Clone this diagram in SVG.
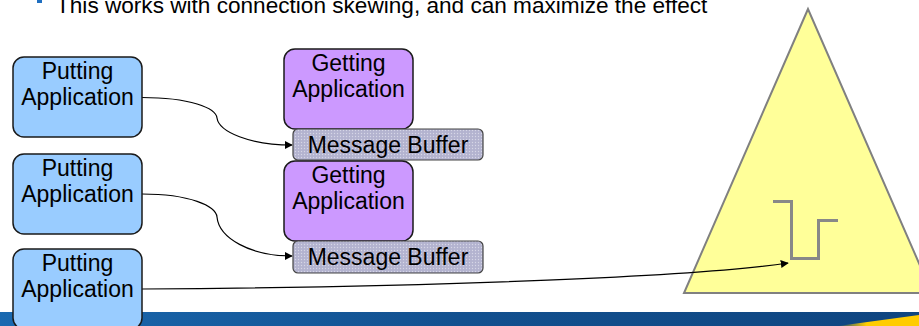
<svg xmlns="http://www.w3.org/2000/svg" width="919" height="326" viewBox="0 0 919 326">
  <style>
    .app { stroke: #1a1a1a; stroke-width: 1.5; }
    .put { fill: #99ccff; }
    .get { fill: #cc99ff; }
    .buf { fill: url(#dots); stroke: #444; stroke-width: 1.2; }
    .lbl { font-family: "Liberation Sans", Arial, sans-serif; font-size: 23px; fill: #000; text-anchor: middle; }
    .conn { fill: none; stroke: #000; stroke-width: 1.2; marker-end: url(#arrow); }
  </style>
  <defs>
    <pattern id="dots" width="3" height="3" patternUnits="userSpaceOnUse">
      <rect width="3" height="3" fill="#b3b3cf"/>
      <circle cx="1.5" cy="1.5" r="0.7" fill="#d6d6e6"/>
    </pattern>
    <marker id="arrow" viewBox="0 0 10 10" refX="9" refY="5" markerWidth="8" markerHeight="8" markerUnits="userSpaceOnUse" orient="auto">
      <path d="M0,0 L10,5 L0,10 Z" fill="#000"/>
    </marker>
    <linearGradient id="band" x1="0" y1="0" x2="1" y2="0">
      <stop offset="0" stop-color="#1a69b0"/>
      <stop offset="0.5" stop-color="#12508f"/>
      <stop offset="1" stop-color="#0f4580"/>
    </linearGradient>
    <linearGradient id="swoosh" x1="0" y1="0" x2="1" y2="0">
      <stop offset="0" stop-color="#ffcc00" stop-opacity="0"/>
      <stop offset="0.35" stop-color="#ffcc00"/>
      <stop offset="1" stop-color="#ffcc00"/>
    </linearGradient>
  </defs>

  <!-- heading line (clipped at top) -->
  <rect x="37" y="-2" width="5" height="5" fill="#1f6fc0"/>
  <text x="56" y="13" font-family="Liberation Sans, Arial, sans-serif" font-size="22.6" fill="#000">This works with connection skewing, and can maximize the effect</text>

  <!-- footer band -->
  <rect x="0" y="312" width="919" height="14" fill="url(#band)"/>
  <polygon points="838,326 919,315 919,326" fill="url(#swoosh)"/>

  <!-- queue triangle with depth trace -->
  <g id="queue">
    <polygon points="808,9 684,293 932,293" fill="#ffff99" stroke="#808080" stroke-width="2"/>
    <polyline points="773,201.5 791.5,201.5 791.5,258.5 818.5,258.5 818.5,220.5 838,220.5" fill="none" stroke="#888" stroke-width="3"/>
  </g>

  <!-- connectors -->
  <g id="connectors">
    <path class="conn" d="M142,97.5 C190,97.5 216,108 217,118 C219,132 250,145 292,145"/>
    <path class="conn" d="M142,194 C190,194 216,206 217,217 C219,238 250,256 292,256"/>
    <path class="conn" d="M142,289 C450,287 700,276 788,263"/>
  </g>

  <g id="put1">
    <rect class="app put" x="13" y="57" width="129" height="80" rx="11"/>
    <text class="lbl" x="77.5" y="79">Putting</text>
    <text class="lbl" x="77.5" y="105">Application</text>
  </g>
  <g id="put2">
    <rect class="app put" x="13" y="154" width="129" height="80" rx="11"/>
    <text class="lbl" x="77.5" y="176">Putting</text>
    <text class="lbl" x="77.5" y="202">Application</text>
  </g>
  <g id="put3">
    <rect class="app put" x="13" y="249" width="129" height="80" rx="11"/>
    <text class="lbl" x="77.5" y="271">Putting</text>
    <text class="lbl" x="77.5" y="297">Application</text>
  </g>

  <g id="get1">
    <rect class="app get" x="284" y="49" width="129" height="80" rx="11"/>
    <text class="lbl" x="348.5" y="71">Getting</text>
    <text class="lbl" x="348.5" y="97">Application</text>
  </g>
  <g id="buf1">
    <rect class="buf" x="293" y="129" width="190" height="31" rx="5"/>
    <text class="lbl" x="388" y="152.5">Message Buffer</text>
  </g>

  <g id="get2">
    <rect class="app get" x="284" y="161" width="129" height="80" rx="11"/>
    <text class="lbl" x="348.5" y="183">Getting</text>
    <text class="lbl" x="348.5" y="209">Application</text>
  </g>
  <g id="buf2">
    <rect class="buf" x="293" y="241" width="190" height="32" rx="5"/>
    <text class="lbl" x="388" y="265">Message Buffer</text>
  </g>
</svg>
